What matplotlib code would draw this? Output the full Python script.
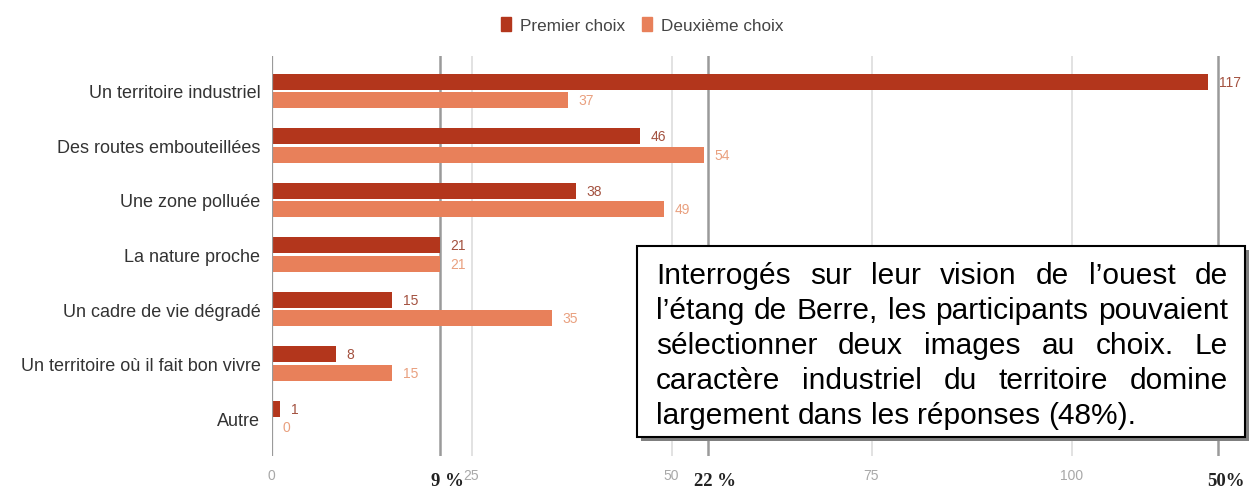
"""Bar chart: images of the west of the Etang de Berre (first / second choice)."""

import matplotlib.pyplot as plt
from matplotlib.patches import Patch, Rectangle
from matplotlib.transforms import blended_transform_factory

categories = [
    "Un territoire industriel",
    "Des routes embouteillées",
    "Une zone polluée",
    "La nature proche",
    "Un cadre de vie dégradé",
    "Un territoire où il fait bon vivre",
    "Autre",
]
premier_choix = [117, 46, 38, 21, 15, 8, 1]
deuxieme_choix = [37, 54, 49, 21, 35, 15, 0]
series_names = ["Premier choix", "Deuxième choix"]
xticks = [0, 25, 50, 75, 100]
pct_positions = [21, 54.5, 118.3]
pct_labels = ["9 %", "22 %", "50%"]
note_lines = [
    "Interrogés sur leur vision de l’ouest de",
    "l’étang de Berre, les participants pouvaient",
    "sélectionner deux images au choix. Le",
    "caractère industriel du territoire domine",
    "largement dans les réponses (48%).",
]

DARK = "#b3361c"
LIGHT = "#e8805a"
DARK_LBL = "#a3513f"
LIGHT_LBL = "#e9a07f"
SANS = "Liberation Sans"

W, H = 1250, 489
fig = plt.figure(figsize=(W / 100, H / 100), dpi=100)
# axes: x=0 at 271.5 px, 8 px per unit; rows 54.5 px apart
ax = fig.add_axes([271.5 / W, 32 / H, 978.5 / W, 400 / H])
ax.set_xlim(0, 978.5 / 8)
ax.set_ylim(6.697, -0.642)

ys = list(range(len(categories)))
off, bh = 0.17, 0.29
ax.barh([y - off for y in ys], premier_choix, height=bh, color=DARK, zorder=2)
ax.barh([y + off for y in ys], deuxieme_choix, height=bh, color=LIGHT, zorder=2)

for y, v in zip(ys, premier_choix):
    ax.text(v + 1.4, y - off, str(v), va="center", ha="left", fontsize=10,
            family=SANS, color=DARK_LBL)
for y, v in zip(ys, deuxieme_choix):
    ax.text(v + 1.4, y + off, str(v), va="center", ha="left", fontsize=10,
            family=SANS, color=LIGHT_LBL)

for t in xticks[1:]:
    ax.axvline(t, color="#dddddd", lw=1.2, zorder=0)
ax.axvline(0, color="#9a9a9a", lw=1.6, zorder=3)
for p in pct_positions:
    ax.axvline(p, color="#9a9a9a", lw=1.8, zorder=1)

for s in ax.spines.values():
    s.set_visible(False)
ax.set_xticks(xticks)
ax.set_xticklabels([str(t) for t in xticks], family=SANS, fontsize=10,
                   color="#a8a8a8")
ax.set_yticks(ys)
ax.set_yticklabels(categories, family=SANS, fontsize=13, color="#333333")
ax.tick_params(axis="x", length=0, pad=9)
ax.tick_params(axis="y", length=0, pad=8)

# percentage markers under the axis
trans = blended_transform_factory(ax.transData, fig.transFigure)
for p, lab in zip(pct_positions, pct_labels):
    ax.text(p + 1.0, 1 - 482 / H, lab, transform=trans, ha="center", va="center",
            fontsize=13.5, fontweight="bold", family="Liberation Serif",
            color="#222222", clip_on=False)

handles = [Patch(color=DARK), Patch(color=LIGHT)]
leg = fig.legend(handles, series_names, loc="center",
                 bbox_to_anchor=(642 / W, 1 - 26 / H), ncol=2, frameon=False,
                 prop={"family": SANS, "size": 12.3}, handlelength=0.6,
                 handleheight=0.9, columnspacing=1.0, handletextpad=0.5)
for txt in leg.get_texts():
    txt.set_color("#444444")

# note box with shadow
bx0, by0, bx1, by1 = 637, 247, 1245, 438
fig.add_artist(Rectangle(((bx0 + 4) / W, 1 - (by1 + 4) / H), (bx1 - bx0) / W,
                         (by1 - by0) / H, transform=fig.transFigure,
                         facecolor="#7f7f7f", edgecolor="none", zorder=10))
fig.add_artist(Rectangle((bx0 / W, 1 - by1 / H), (bx1 - bx0) / W, (by1 - by0) / H,
                         transform=fig.transFigure, facecolor="white",
                         edgecolor="black", lw=1.5, zorder=11))

# justified paragraph
renderer = fig.canvas.get_renderer()
tx0, tx1 = 656 / W, 1228 / W
note_font = {"family": SANS, "fontsize": 21.5, "color": "black"}


def text_width(s):
    t = fig.text(0, 0, s, **note_font)
    w = t.get_window_extent(renderer).width / fig.bbox.width
    t.remove()
    return w


space = text_width("x x") - text_width("xx")
for i, line in enumerate(note_lines):
    yb = 1 - (284 + 35 * i) / H
    words = line.split()
    widths = [text_width(w) for w in words]
    last = i == len(note_lines) - 1
    gap = space if last else (tx1 - tx0 - sum(widths)) / (len(words) - 1)
    x = tx0
    for w, wd in zip(words, widths):
        fig.text(x, yb, w, va="baseline", ha="left", zorder=12, **note_font)
        x += wd + gap

fig.savefig("out.png", dpi=100)
